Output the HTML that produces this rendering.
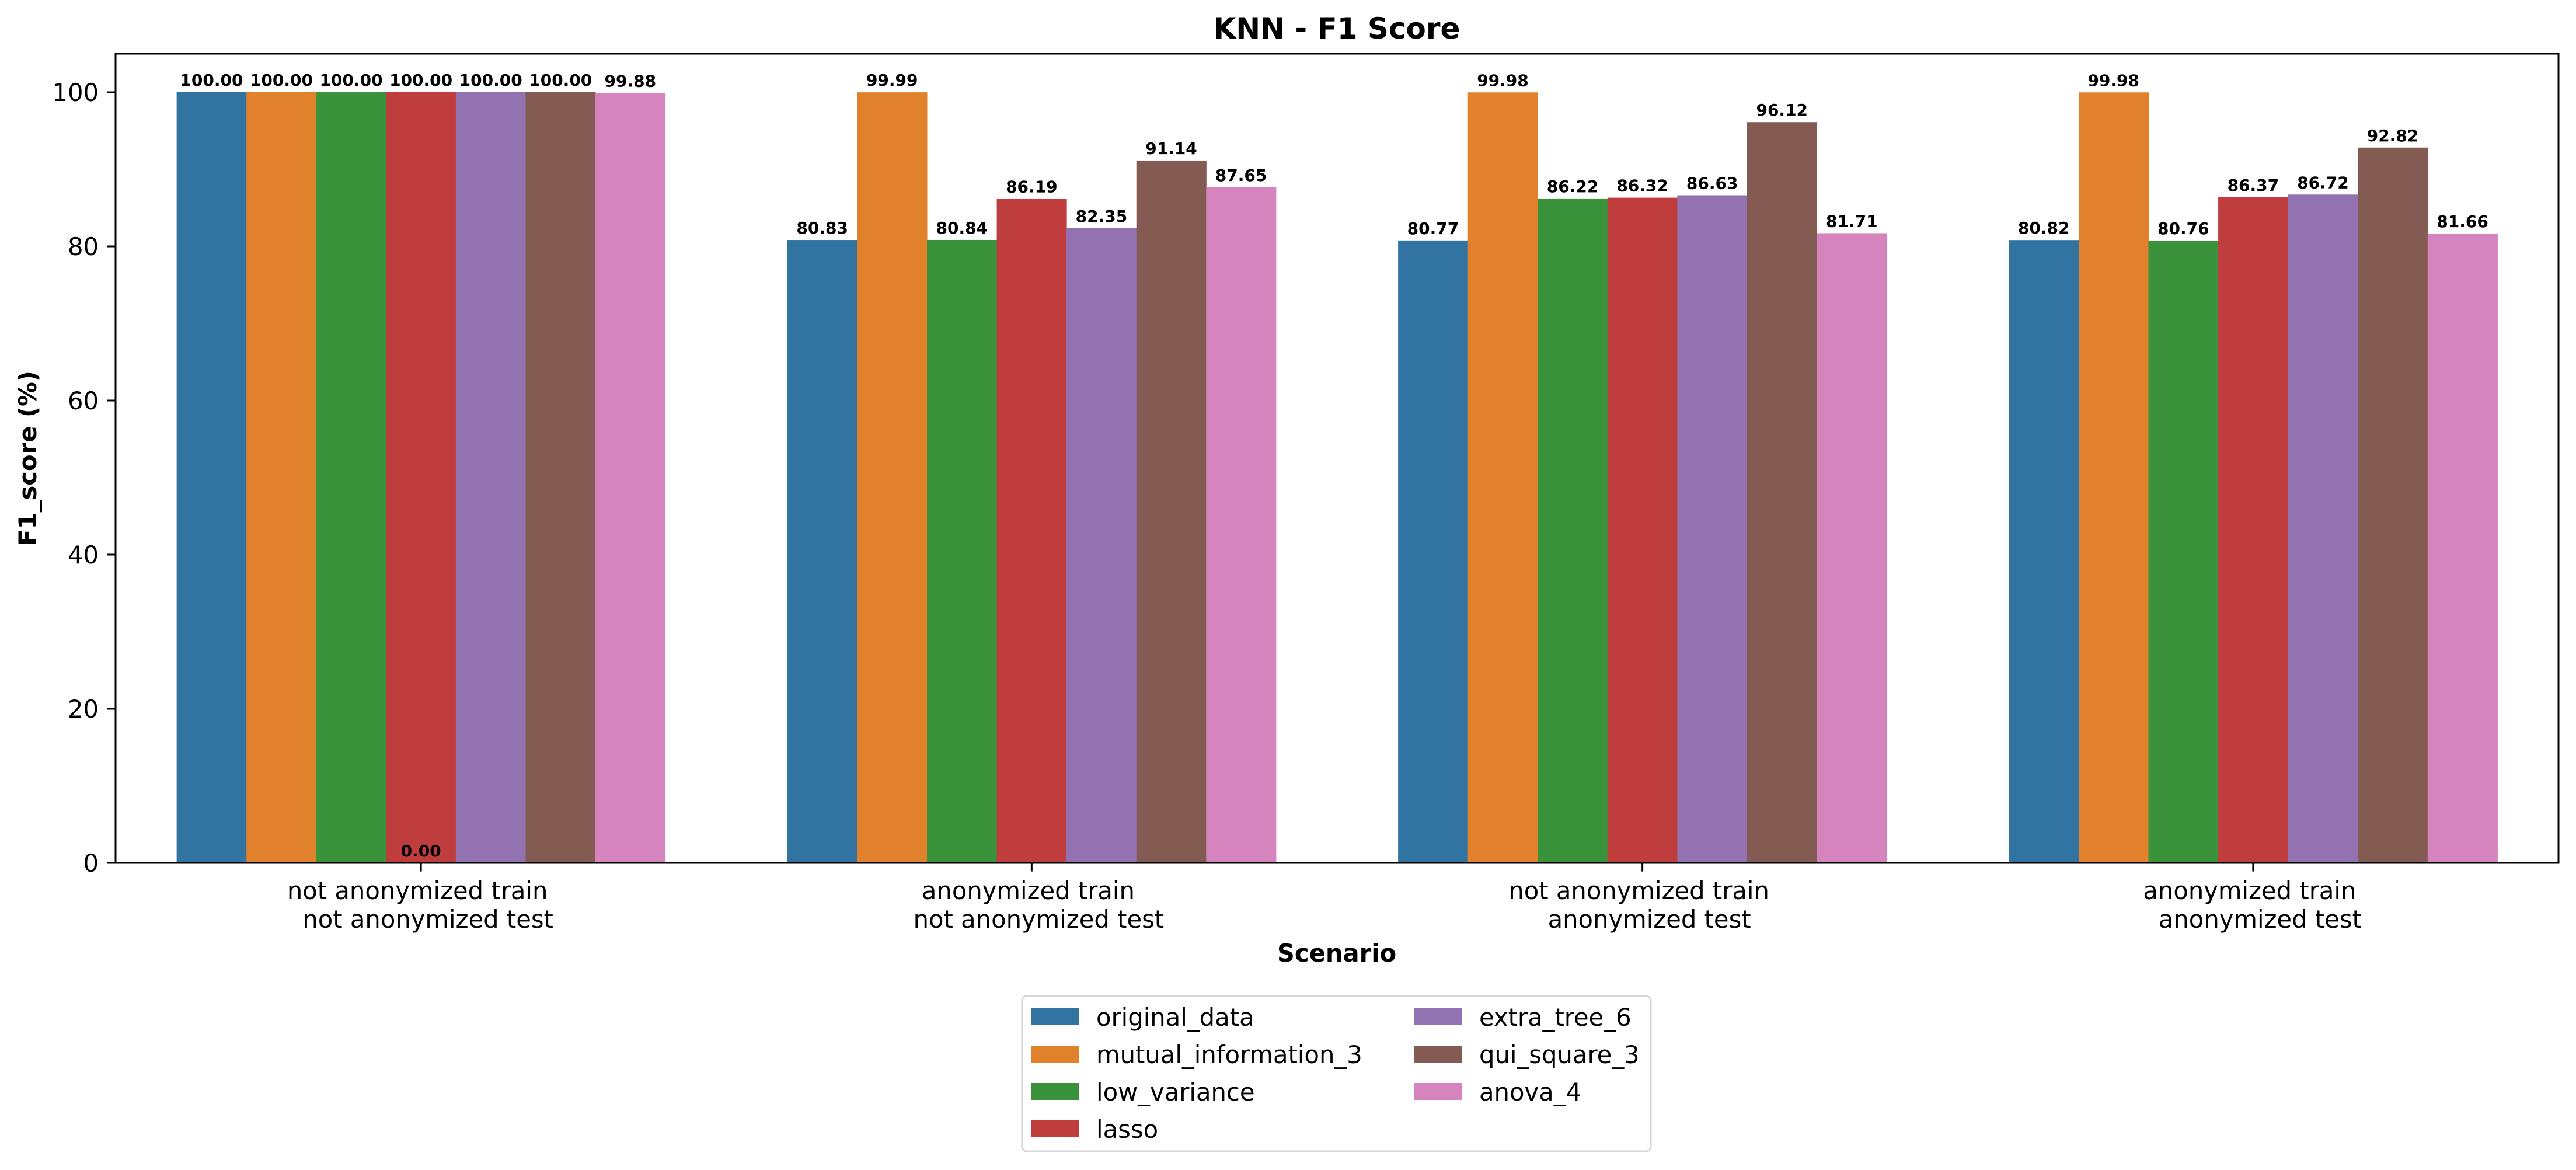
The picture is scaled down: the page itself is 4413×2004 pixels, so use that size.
<!DOCTYPE html>
<html><head><meta charset="utf-8"><style>
html,body{margin:0;padding:0;background:#fff}
svg{display:block;font-family:"DejaVu Sans","Liberation Sans",sans-serif}
</style></head><body>
<svg id="chart" width="4413" height="2004" viewBox="0 0 4413 2004" xmlns="http://www.w3.org/2000/svg">
<rect x="0" y="0" width="4413" height="2004" fill="#fff"/>
<text x="2290" y="66" font-size="50" font-weight="bold" text-anchor="middle">KNN - F1 Score</text>
<g id="bars"></g>
<g id="labels"></g>
<g id="yaxis"></g>
<g id="xaxis"></g>
<rect x="198" y="92" width="4185" height="1386" fill="none" stroke="#000" stroke-width="3"/>
<text x="0" y="0" transform="translate(62,785) rotate(-90)" font-size="41.7" font-weight="bold" text-anchor="middle">F1_score (%)</text>
<text x="2290" y="1647" font-size="41.7" font-weight="bold" text-anchor="middle">Scenario</text>
<g id="legend">
<rect x="1751" y="1706" width="1077" height="266" rx="8" fill="#fff" stroke="#d6d6d6" stroke-width="3"/>
</g>
</svg>
<script>
const categories = ["not anonymized train\nnot anonymized test","anonymized train\nnot anonymized test","not anonymized train\nanonymized test","anonymized train\nanonymized test"];
const seriesNames = ["original_data","mutual_information_3","low_variance","lasso","extra_tree_6","qui_square_3","anova_4"];
const original_data = [100.00, 80.83, 80.77, 80.82];
const mutual_information_3 = [100.00, 99.99, 99.98, 99.98];
const low_variance = [100.00, 80.84, 86.22, 80.76];
const lasso = [100.00, 86.19, 86.32, 86.37];
const lasso_printed = [0.00, 86.19, 86.32, 86.37];
const lasso_printed_top = [100.00];
const extra_tree_6 = [100.00, 82.35, 86.63, 86.72];
const qui_square_3 = [100.00, 91.14, 96.12, 92.82];
const anova_4 = [99.88, 87.65, 81.71, 81.66];
const yTicks = [0, 20, 40, 60, 80, 100];

const series = [original_data, mutual_information_3, low_variance, lasso, extra_tree_6, qui_square_3, anova_4];
const printed = [original_data, mutual_information_3, low_variance, lasso_printed, extra_tree_6, qui_square_3, anova_4];
const colors = ["#3274a1","#e1812c","#3a923a","#c03d3e","#9372b2","#845b53","#d684bd"];
const NS = "http://www.w3.org/2000/svg";
const L = 198, R = 4383, T = 92, B = 1478, YMAX = 105;
const y = v => B - v / YMAX * (B - T);
const groupW = (R - L) / categories.length;
const xc = i => L + groupW * (i + 0.5);
const barW = groupW * 0.8 / series.length;
function mk(tag, attrs, parent) { const e = document.createElementNS(NS, tag); for (const k in attrs) e.setAttribute(k, attrs[k]); parent.appendChild(e); return e; }
const gb = document.getElementById('bars'), gl = document.getElementById('labels');
function label(x, v) {
  const t = mk('text', {x: x, y: y(v) - 11, 'font-size': 28, 'font-weight': 'bold', 'text-anchor': 'middle'}, gl);
  t.textContent = v.toFixed(2);
  
  
}
series.forEach((s, si) => {
  s.forEach((v, ci) => {
    const x0 = xc(ci) - groupW * 0.4 + si * barW;
    const r = mk('rect', {x: x0, y: y(v), width: barW + 0.5, height: B - y(v), fill: colors[si]}, gb);
    
    
    label(x0 + barW / 2, printed[si][ci]);
  });
});
lasso_printed_top.forEach((v, ci) => {
  label(xc(ci) - groupW * 0.4 + 3 * barW + barW / 2, v);
});
const gy = document.getElementById('yaxis');
yTicks.forEach(v => {
  const ln = mk('line', {x1: L - 14.6, x2: L, y1: y(v), y2: y(v), stroke: '#000', 'stroke-width': 3}, gy);
  
  
  const t = mk('text', {x: L - 29, y: y(v) + 15, 'font-size': 41.7, 'text-anchor': 'end'}, gy);
  t.textContent = v;
  
  
});
const gx = document.getElementById('xaxis');
categories.forEach((c, i) => {
  const ln = mk('line', {x1: xc(i), x2: xc(i), y1: B, y2: B + 14.6, stroke: '#000', 'stroke-width': 3}, gx);
  
  
  c.split('\n').forEach((line, k) => {
    const t = mk('text', {x: xc(i) + (k ? 12 : -6), y: 1540 + k * 49, 'font-size': 41.7, 'text-anchor': 'middle'}, gx);
    t.textContent = line;
    
    
  });
});
const lg = document.getElementById('legend');
seriesNames.forEach((n, i) => {
  const col = i < 4 ? 0 : 1, row = i < 4 ? i : i - 4;
  const px = col ? 2422 : 1766, ty = 1742 + row * 64;
  const r = mk('rect', {x: px, y: ty - 15, width: 83, height: 29, fill: colors[i]}, lg);
  
  
  const t = mk('text', {x: px + 112, y: ty + 15, 'font-size': 41.7}, lg);
  t.textContent = n;
  
  
});
</script>
</body></html>
